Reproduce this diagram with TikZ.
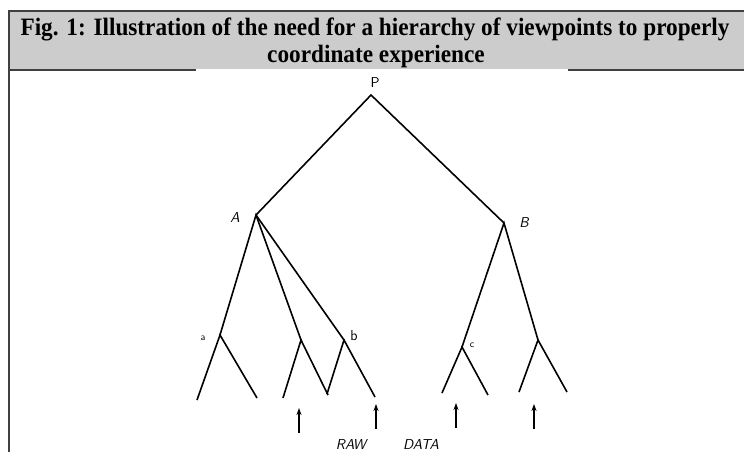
\documentclass[tikz,border=0pt]{standalone}
\usepackage{fontspec}
\setmainfont{Liberation Serif}
\usetikzlibrary{arrows.meta}
\definecolor{headgray}{HTML}{CCCCCC}
\tikzset{
  branch/.style={line width=1.6pt, black},
  tag/.style={inner sep=0pt, font=\sffamily\Large},
  smalltag/.style={inner sep=0pt, font=\sffamily\normalsize},
  datarrow/.style={line width=1.5pt, -{Stealth[length=7pt,width=5pt]}},
  headline/.style={anchor=base, inner sep=0pt, font=\bfseries\fontsize{25}{27}\selectfont}
}
\begin{document}
\begin{tikzpicture}[x=1pt, y=-1pt]
    \useasboundingbox (0,0) rectangle (744,452);

    % caption box
    \begin{scope}
        \draw[fill=headgray, draw=black!75, line width=1.5pt] (9,11) rectangle (747,70);
        \draw[draw=black!75, line width=2pt] (9,70) -- (9,453);
        \fill[white] (196,69.2) rectangle (568,453);
        \node[headline] (cap1) at (375,36) {\scalebox{0.93}[1]{Fig. 1: Illustration of the need for a hierarchy of viewpoints to properly}};
        \node[headline] (cap2) at (376,63) {\scalebox{0.93}[1]{coordinate experience}};
    \end{scope}

    % hierarchy of viewpoints
    \begin{scope}
        \coordinate (P) at (371,95);
        \coordinate (A) at (256,215);
        \coordinate (B) at (504,223);
        \coordinate (a) at (220,335);
        \coordinate (m) at (301,340);
        \coordinate (b) at (344,340);
        \coordinate (c) at (462,347);
        \coordinate (d) at (538,340);

        \draw[branch] (A) -- (P) -- (B);
        \draw[branch] (a) -- (A) -- (m);
        \draw[branch] (A) -- (b);
        \draw[branch] (c) -- (B) -- (d);

        \draw[branch] (197,400) -- (a) -- (257,398);
        \draw[branch] (283,398) -- (m) -- (328,395);
        \draw[branch] (327,394) -- (b) -- (375,397);
        \draw[branch] (442,393) -- (c) -- (488,395);
        \draw[branch] (519,392) -- (d) -- (567,392);

        \node[tag] (labP) at (375,83) {P};
        \node[tag] (labA) at (235,218) {\itshape A};
        \node[tag] (labB) at (524,223) {\itshape B};
        \node[smalltag] (laba) at (203,338) {a};
        \node[tag] (labb) at (354,336) {b};
        \node[smalltag] (labc) at (472,345) {c};
    \end{scope}

    % raw data coming in
    \coordinate (in1) at (299,433);
    \coordinate (in2) at (376,429);
    \coordinate (in3) at (456,428);
    \coordinate (in4) at (534,429);
    \foreach \i in {1,...,4}
        \draw[datarrow] (in\i) -- ++(0,-25);
    \node[tag, anchor=north, font=\sffamily\itshape\Large] (raw) at (351,439) {RAW};
    \node[tag, anchor=north, font=\sffamily\itshape\Large] (data) at (421,439) {DATA};
\end{tikzpicture}
\end{document}
